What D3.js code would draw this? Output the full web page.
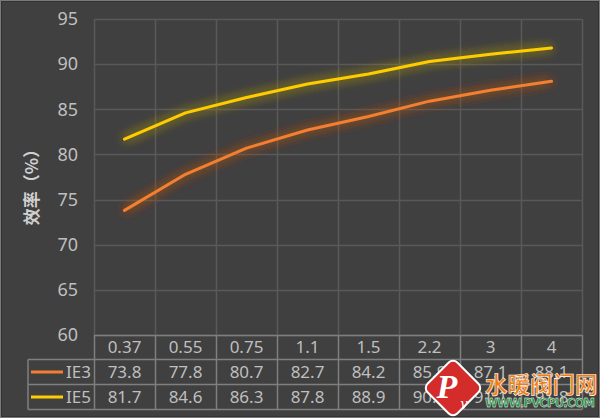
<!DOCTYPE html>
<html><head><meta charset="utf-8">
<script src="https://cdn.jsdelivr.net/npm/d3@7"></script>
<style>html,body{margin:0;padding:0;background:#404040;}svg{display:block;}</style>
</head><body>
<script>
const categories = ["0.37","0.55","0.75","1.1","1.5","2.2","3","4"];
const ie3 = [73.8,77.8,80.7,82.7,84.2,85.9,87.1,88.1];
const ie5 = [81.7,84.6,86.3,87.8,88.9,90.3,91.1,91.8];
const seriesNames = ["IE3","IE5"];
const yTicks = [60,65,70,75,80,85,90,95];
const yTitle = "效率（%）";

const W=600,H=418;
const svg=d3.select("body").append("svg").attr("width",W).attr("height",H);
svg.append("rect").attr("width",W).attr("height",H).attr("fill","#404040");
svg.append("rect").attr("x",0.5).attr("y",0.5).attr("width",W-1).attr("height",H-1).attr("fill","none").attr("stroke","#7a7a7a");
svg.append("rect").attr("x",1.5).attr("y",1.5).attr("width",W-3).attr("height",H-3).attr("fill","none").attr("stroke","#333");

const L=94,R=582,T=19,B=335;
const x=d3.scaleBand().domain(categories).range([L,R]);
const y=d3.scaleLinear().domain([60,95]).range([B,T]);
const font="'Noto Sans','DejaVu Sans',sans-serif";
const grid="#595959", tcol="#bfbfbf";

// grid
const g=svg.append("g");
g.selectAll("line.h").data(yTicks).join("line")
 .attr("x1",L).attr("x2",R).attr("y1",d=>Math.round(y(d))+0.5).attr("y2",d=>Math.round(y(d))+0.5)
 .attr("stroke",grid).attr("stroke-width",1.5);
const bounds=categories.map(c=>x(c)).concat([R]);
g.selectAll("line.v").data(bounds).join("line")
 .attr("x1",d=>Math.round(d)+0.5).attr("x2",d=>Math.round(d)+0.5).attr("y1",T).attr("y2",B)
 .attr("stroke",grid).attr("stroke-width",1.5);

// y axis
const yAxis=d3.axisLeft(y).tickValues(yTicks).tickSize(0).tickPadding(16);
const ya=svg.append("g").attr("transform",`translate(${L},0)`).call(yAxis);
ya.select(".domain").remove();
ya.selectAll("text").attr("fill",tcol).attr("font-size",18).attr("font-family",font);

svg.append("text").attr("transform","translate(38,183) rotate(-90)")
 .attr("text-anchor","middle").attr("fill","#d0d0d0").attr("font-size",17).attr("font-weight","bold")
 .attr("font-family","'Noto Sans CJK SC',sans-serif").text(yTitle);

// glow filters
const defs=svg.append("defs");
function glow(id,color){
 const f=defs.append("filter").attr("id",id).attr("x","-20%").attr("y","-60%").attr("width","140%").attr("height","220%");
 f.append("feGaussianBlur").attr("in","SourceAlpha").attr("stdDeviation",6).attr("result","b");
 f.append("feFlood").attr("flood-color",color).attr("flood-opacity",0.6);
 f.append("feComposite").attr("in2","b").attr("operator","in").attr("result","c");
 const m=f.append("feMerge");
 m.append("feMergeNode").attr("in","c");
 m.append("feMergeNode").attr("in","c");
 m.append("feMergeNode").attr("in","c");
 m.append("feMergeNode").attr("in","SourceGraphic");
}
const colors=["#f47e30","#ffcc00"];
glow("g0","#b85a1c");glow("g1","#a89400");
const line=d3.line().x((d,i)=>x(categories[i])+x.bandwidth()/2).y(d=>y(d));
[ie3,ie5].forEach((s,k)=>{
 svg.append("path").datum(s).attr("d",line).attr("fill","none").attr("stroke",colors[k])
  .attr("stroke-width",3).attr("stroke-linecap","round").attr("stroke-linejoin","round").attr("filter",`url(#g${k})`);
});

// data table
const tb="#7f7f7f";
const rowY=[335,359.5,384.5,409.5];
const t=svg.append("g");
t.append("line").attr("x1",L).attr("x2",R).attr("y1",rowY[0]+0.5).attr("y2",rowY[0]+0.5).attr("stroke",tb).attr("stroke-width",1.5);
[1,2,3].forEach(i=>t.append("line").attr("x1",28).attr("x2",R).attr("y1",rowY[i]).attr("y2",rowY[i]).attr("stroke",tb).attr("stroke-width",1.5));
bounds.forEach(b=>t.append("line").attr("x1",Math.round(b)+0.5).attr("x2",Math.round(b)+0.5).attr("y1",rowY[0]).attr("y2",rowY[3]).attr("stroke",tb).attr("stroke-width",1.5));
t.append("line").attr("x1",28).attr("x2",28).attr("y1",rowY[1]).attr("y2",rowY[3]).attr("stroke",tb).attr("stroke-width",1.5);
t.selectAll("text.h").data(categories).join("text").attr("x",d=>x(d)+x.bandwidth()/2).attr("y",(rowY[0]+rowY[1])/2+6)
 .attr("text-anchor","middle").attr("fill",tcol).attr("font-size",17).attr("font-family",font).text(d=>d);
[ie3,ie5].forEach((s,k)=>{
 const cy=(rowY[k+1]+rowY[k+2])/2;
 t.selectAll(null).data(s).join("text").attr("x",(d,i)=>x(categories[i])+x.bandwidth()/2).attr("y",cy+6)
  .attr("text-anchor","middle").attr("fill",tcol).attr("font-size",17).attr("font-family",font).text(d=>d.toFixed(1));
 t.append("line").attr("x1",31).attr("x2",63).attr("y1",cy).attr("y2",cy).attr("stroke",colors[k]).attr("stroke-width",3);
 t.append("text").attr("x",91).attr("y",cy+6).attr("text-anchor","end").attr("fill",tcol).attr("font-size",17).attr("font-family",font).text(seriesNames[k]);
});

// watermark
const wm=svg.append("g");
wm.append("rect").attr("x",-21).attr("y",-21).attr("width",42).attr("height",42).attr("rx",6)
 .attr("transform","translate(453,388) rotate(45)").attr("fill","#d42b2b").attr("stroke","#fff").attr("stroke-width",2);
wm.append("text").attr("x",447).attr("y",398).attr("text-anchor","middle").attr("fill","#fff").attr("font-size",34)
 .attr("font-style","italic").attr("font-weight","bold").attr("font-family","'Liberation Serif',serif").text("P");
wm.append("text").attr("x",464).attr("y",409).attr("text-anchor","middle").attr("fill","#fff").attr("font-size",16)
 .attr("font-style","italic").attr("font-family","'Liberation Serif',serif").text("v");
wm.append("text").attr("x",485).attr("y",393).attr("fill","#f07c12").attr("stroke","#fff").attr("stroke-width",0.6)
 .attr("font-size",22.5).attr("font-weight","bold").attr("font-family","'Noto Sans CJK SC',sans-serif").text("水暖阀门网");
wm.append("text").attr("x",485).attr("y",407).attr("fill","#1f8a3c").attr("stroke","#fff").attr("stroke-width",0.4)
 .attr("font-size",11.5).attr("font-weight","bold").attr("textLength",110).attr("font-family","'DejaVu Sans',sans-serif").text("WWW.PVCPU.COM");
</script>
</body></html>
